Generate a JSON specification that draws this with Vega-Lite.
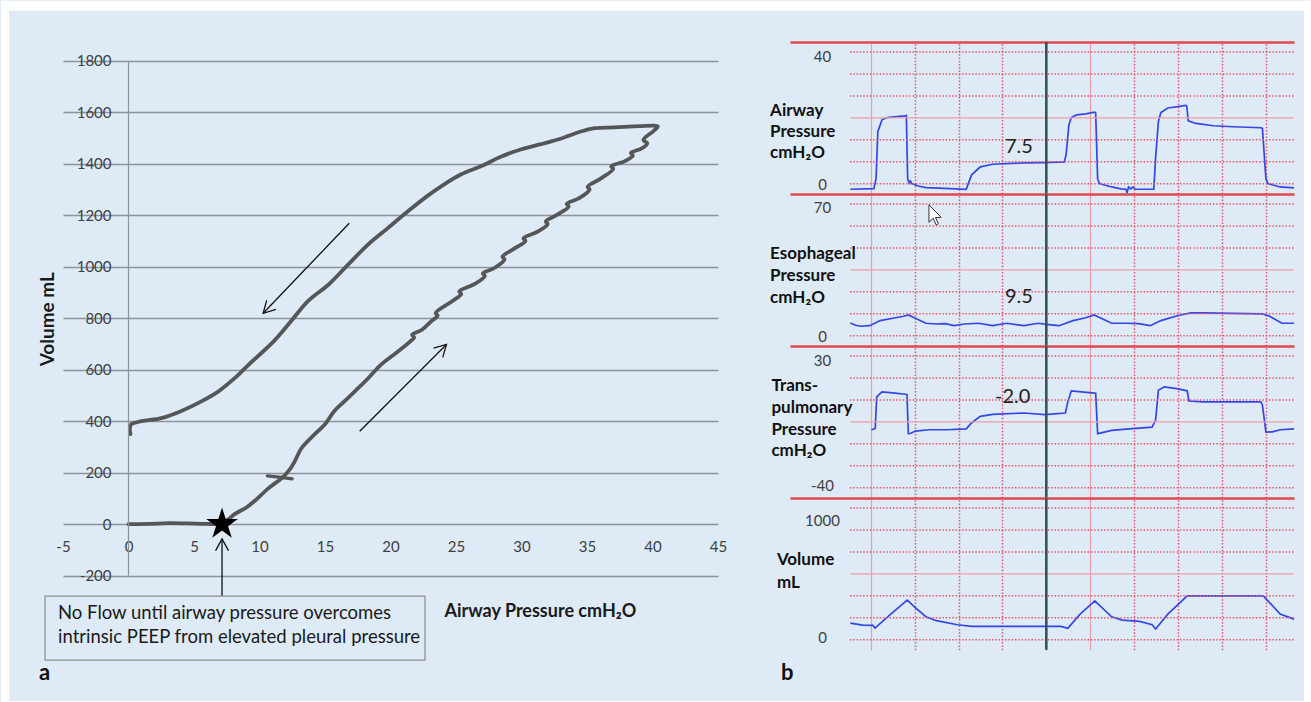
{
  "$schema": "https://vega.github.io/schema/vega-lite/v6.json",
  "background": "#deeaf6",
  "padding": {"left": 0, "top": 0, "right": 0, "bottom": 0},
  "config": {"view": {"stroke": null}, "font": "Lato"},
  "datasets": {
    "loop": [
      {"i":0,"p":0.0,"v":0},{"i":1,"p":1.5,"v":1},{"i":2,"p":3.0,"v":4},{"i":3,"p":4.5,"v":3},{"i":4,"p":6.0,"v":1},
      {"i":5,"p":7.0,"v":3},{"i":6,"p":7.6,"v":18},{"i":7,"p":8.1,"v":39},{"i":8,"p":9.0,"v":65},{"i":9,"p":9.6,"v":89},
      {"i":10,"p":10.7,"v":140},{"i":11,"p":11.7,"v":179},{"i":12,"p":12.3,"v":212},{"i":13,"p":12.7,"v":245},{"i":14,"p":13.2,"v":295},
      {"i":15,"p":14.2,"v":349},{"i":16,"p":15.0,"v":388},{"i":17,"p":15.7,"v":439},{"i":18,"p":16.5,"v":478},{"i":19,"p":17.3,"v":517},
      {"i":20,"p":18.3,"v":567},{"i":21,"p":19.3,"v":621},{"i":22,"p":20.3,"v":660},{"i":23,"p":21.4,"v":705},{"i":24,"p":21.8,"v":726},
      {"i":25,"p":21.65,"v":736},{"i":26,"p":22.4,"v":755},{"i":27,"p":23.1,"v":788},{"i":28,"p":23.6,"v":810},{"i":29,"p":23.45,"v":820},
      {"i":30,"p":24.7,"v":866},{"i":31,"p":25.4,"v":894},{"i":32,"p":25.25,"v":904},{"i":33,"p":26.4,"v":932},{"i":34,"p":27.2,"v":964},
      {"i":35,"p":27.05,"v":974},{"i":36,"p":27.9,"v":994},{"i":37,"p":28.7,"v":1028},{"i":38,"p":28.55,"v":1039},{"i":39,"p":29.5,"v":1072},
      {"i":40,"p":30.3,"v":1100},{"i":41,"p":30.15,"v":1110},{"i":42,"p":31.3,"v":1138},{"i":43,"p":32.0,"v":1166},{"i":44,"p":31.85,"v":1176},
      {"i":45,"p":32.8,"v":1204},{"i":46,"p":33.6,"v":1234},{"i":47,"p":33.45,"v":1244},{"i":48,"p":34.4,"v":1266},{"i":49,"p":35.2,"v":1300},
      {"i":50,"p":35.05,"v":1310},{"i":51,"p":36.1,"v":1344},{"i":52,"p":37.0,"v":1380},{"i":53,"p":36.85,"v":1390},{"i":54,"p":37.9,"v":1410},
      {"i":55,"p":38.5,"v":1432},{"i":56,"p":38.35,"v":1442},{"i":57,"p":39.2,"v":1460},{"i":58,"p":39.6,"v":1480},{"i":59,"p":39.3,"v":1492},
      {"i":60,"p":40.1,"v":1528},{"i":61,"p":40.4,"v":1545},{"i":62,"p":39.0,"v":1546},{"i":63,"p":37.1,"v":1541},{"i":64,"p":35.6,"v":1538},
      {"i":65,"p":34.6,"v":1526},{"i":66,"p":33.1,"v":1499},{"i":67,"p":31.5,"v":1476},{"i":68,"p":30.0,"v":1456},{"i":69,"p":28.5,"v":1429},
      {"i":70,"p":26.9,"v":1390},{"i":71,"p":25.4,"v":1359},{"i":72,"p":24.1,"v":1320},{"i":73,"p":22.9,"v":1278},{"i":74,"p":21.4,"v":1218},
      {"i":75,"p":19.8,"v":1150},{"i":76,"p":18.3,"v":1087},{"i":77,"p":16.8,"v":1010},{"i":78,"p":15.3,"v":932},{"i":79,"p":13.7,"v":866},
      {"i":80,"p":12.4,"v":788},{"i":81,"p":11.1,"v":711},{"i":82,"p":9.2,"v":621},{"i":83,"p":8.1,"v":567},{"i":84,"p":6.9,"v":517},
      {"i":85,"p":5.6,"v":478},{"i":86,"p":4.0,"v":439},{"i":87,"p":2.5,"v":412},{"i":88,"p":1.0,"v":400},{"i":89,"p":0.2,"v":388},
      {"i":90,"p":0.1,"v":370},{"i":91,"p":0.15,"v":350}
    ],
    "spur": [{"i":0,"p":10.6,"v":188},{"i":1,"p":11.5,"v":183},{"i":2,"p":12.5,"v":176}]
  },
  "hconcat": [
    {
      "width": 655,
      "height": 533.7,
      "layer": [
        {
          "data": {"name": "loop"},
          "mark": {"type": "line", "color": "#555658", "strokeWidth": 3.8, "strokeJoin": "round", "strokeCap": "round", "interpolate": "catmull-rom"},
          "encoding": {
            "x": {"field": "p", "type": "quantitative", "scale": {"domain": [-5, 45], "nice": false, "zero": false},
              "axis": {"values": [-5,0,5,10,15,20,25,30,35,40,45], "orient": "bottom", "domain": false, "ticks": false, "tickSize": 0, "grid": false,
                "labelExpr": "'' + datum.value",
                "labelPadding": -36, "labelFlush": false, "labelOverlap": false, "labelFontSize": 15, "labelColor": "#404040", "labelBaseline": "top",
                "title": "Airway Pressure cmH₂O", "titleX": 381, "titleY": 36, "titleAlign": "left", "titleAnchor": "start", "titleBaseline": "middle",
                "titleFontSize": 18, "titleFontWeight": "bold", "titleColor": "#1a1a1a"}},
            "y": {"field": "v", "type": "quantitative", "scale": {"domain": [-200, 1872.7], "nice": false, "zero": false},
              "axis": {"values": [-200,0,200,400,600,800,1000,1200,1400,1600,1800], "orient": "left", "domain": false, "ticks": false, "tickSize": 0, "grid": true,
                "labelExpr": "'' + datum.value",
                "gridColor": "#8d939b", "gridWidth": 1.3, "labelPadding": -48, "labelAlign": "right", "labelBaseline": "middle", "labelFontSize": 15,
                "labelColor": "#404040", "labelFlush": false, "labelOverlap": false,
                "title": "Volume mL", "titleX": -16, "titleY": 276.7, "titleAngle": 270, "titleAlign": "center", "titleBaseline": "middle",
                "titleFontSize": 19, "titleFontWeight": "bold", "titleColor": "#1a1a1a"}},
            "order": {"field": "i", "type": "quantitative"}
          }
        },
        {
          "data": {"values": [{}]},
          "mark": {"type": "rect", "color": "#ffffff", "opacity": 1},
          "encoding": {
            "x": {"datum": -9.733, "scale": {"domain": [-5, 45], "nice": false, "zero": false}},
            "y": {"datum": 2033.2, "scale": {"domain": [-200, 1872.7], "nice": false, "zero": false}},
            "x2": {"datum": -9.122}, "y2": {"datum": -694.6}
          }
        },
        {
          "data": {"values": [{}]},
          "mark": {"type": "rect", "color": "#ffffff", "opacity": 1},
          "encoding": {
            "x": {"datum": -9.733, "scale": {"domain": [-5, 45], "nice": false, "zero": false}},
            "y": {"datum": 2033.2, "scale": {"domain": [-200, 1872.7], "nice": false, "zero": false}},
            "x2": {"datum": 90.34}, "y2": {"datum": 1994.3}
          }
        },
        {
          "data": {"values": [{}]},
          "mark": {"type": "rect", "color": "#ffffff", "opacity": 1},
          "encoding": {
            "x": {"datum": 89.73, "scale": {"domain": [-5, 45], "nice": false, "zero": false}},
            "y": {"datum": 2033.2, "scale": {"domain": [-200, 1872.7], "nice": false, "zero": false}},
            "x2": {"datum": 90.34}, "y2": {"datum": -694.6}
          }
        },
        {
          "data": {"values": [{}]},
          "mark": {"type": "rect", "color": "#ffffff", "opacity": 1},
          "encoding": {
            "x": {"datum": -9.733, "scale": {"domain": [-5, 45], "nice": false, "zero": false}},
            "y": {"datum": -686.9, "scale": {"domain": [-200, 1872.7], "nice": false, "zero": false}},
            "x2": {"datum": 90.34}, "y2": {"datum": -694.6}
          }
        },
        {
          "data": {"values": [{}]},
          "mark": {"type": "rule", "color": "#8d939b", "strokeWidth": 1.2},
          "encoding": {
            "x": {"datum": 0, "scale": {"domain": [-5, 45], "nice": false, "zero": false}},
            "y": {"datum": -200, "scale": {"domain": [-200, 1872.7], "nice": false, "zero": false}},
            "y2": {"datum": 1800}
          }
        },
        {
          "data": {"name": "spur"},
          "mark": {"type": "line", "color": "#555658", "strokeWidth": 3.2, "strokeCap": "round"},
          "encoding": {
            "x": {"field": "p", "type": "quantitative", "scale": {"domain": [-5, 45], "nice": false, "zero": false}},
            "y": {"field": "v", "type": "quantitative", "scale": {"domain": [-200, 1872.7], "nice": false, "zero": false}},
            "order": {"field": "i", "type": "quantitative"}
          }
        },
        {
          "data": {"values": [{}]},
          "mark": {"type": "rule", "color": "#111111", "strokeWidth": 1.3},
          "encoding": {
            "x": {"datum": 16.85, "scale": {"domain": [-5, 45], "nice": false, "zero": false}},
            "y": {"datum": 1169, "scale": {"domain": [-200, 1872.7], "nice": false, "zero": false}},
            "x2": {"datum": 10.28}, "y2": {"datum": 819}
          }
        },
        {
          "data": {"values": [{}]},
          "mark": {"type": "rule", "color": "#111111", "strokeWidth": 1.3},
          "encoding": {
            "x": {"datum": 17.65, "scale": {"domain": [-5, 45], "nice": false, "zero": false}},
            "y": {"datum": 361, "scale": {"domain": [-200, 1872.7], "nice": false, "zero": false}},
            "x2": {"datum": 24.27}, "y2": {"datum": 698}
          }
        },
        {
          "data": {"values": [{}]},
          "mark": {"type": "rule", "color": "#111111", "strokeWidth": 1.3},
          "encoding": {
            "x": {"datum": 7.14, "scale": {"domain": [-5, 45], "nice": false, "zero": false}},
            "y": {"datum": -279, "scale": {"domain": [-200, 1872.7], "nice": false, "zero": false}},
            "y2": {"datum": -57}
          }
        },
        {
          "data": {"values": [{}]},
          "mark": {"type": "point", "shape": "M-0.55,1L0,0L0.55,1", "size": 550, "filled": false, "stroke": "#111111", "strokeWidth": 1.3, "opacity": 1, "angle": 224},
          "encoding": {
            "x": {"datum": 10.28, "scale": {"domain": [-5, 45], "nice": false, "zero": false}},
            "y": {"datum": 819, "scale": {"domain": [-200, 1872.7], "nice": false, "zero": false}}
          }
        },
        {
          "data": {"values": [{}]},
          "mark": {"type": "point", "shape": "M-0.55,1L0,0L0.55,1", "size": 550, "filled": false, "stroke": "#111111", "strokeWidth": 1.3, "opacity": 1, "angle": 45},
          "encoding": {
            "x": {"datum": 24.27, "scale": {"domain": [-5, 45], "nice": false, "zero": false}},
            "y": {"datum": 698, "scale": {"domain": [-200, 1872.7], "nice": false, "zero": false}}
          }
        },
        {
          "data": {"values": [{}]},
          "mark": {"type": "point", "shape": "M-0.55,1L0,0L0.55,1", "size": 550, "filled": false, "stroke": "#111111", "strokeWidth": 1.3, "opacity": 1, "angle": 0},
          "encoding": {
            "x": {"datum": 7.14, "scale": {"domain": [-5, 45], "nice": false, "zero": false}},
            "y": {"datum": -57, "scale": {"domain": [-200, 1872.7], "nice": false, "zero": false}}
          }
        },
        {
          "data": {"values": [{}]},
          "mark": {"type": "point", "shape": "M0,-1L0.2245,-0.309L0.951,-0.309L0.363,0.118L0.588,0.809L0,0.382L-0.588,0.809L-0.363,0.118L-0.951,-0.309L-0.2245,-0.309Z", "size": 1102, "filled": true, "color": "#000000", "opacity": 1},
          "encoding": {
            "x": {"datum": 7.14, "scale": {"domain": [-5, 45], "nice": false, "zero": false}},
            "y": {"datum": 0, "scale": {"domain": [-200, 1872.7], "nice": false, "zero": false}}
          }
        },
        {
          "data": {"values": [{}]},
          "mark": {"type": "rect", "filled": false, "stroke": "#8c8c8c", "strokeWidth": 1.2},
          "encoding": {
            "x": {"datum": -6.37, "scale": {"domain": [-5, 45], "nice": false, "zero": false}},
            "y": {"datum": -279, "scale": {"domain": [-200, 1872.7], "nice": false, "zero": false}},
            "x2": {"datum": 22.63}, "y2": {"datum": -527.5}
          }
        },
        {
          "data": {"values": [{"label": "No Flow until airway pressure overcomes"}]},
          "mark": {"type": "text", "align": "left", "baseline": "middle", "fontSize": 18.5, "color": "#1a1a1a"},
          "encoding": {
            "x": {"datum": -5.38, "scale": {"domain": [-5, 45], "nice": false, "zero": false}},
            "y": {"datum": -345, "scale": {"domain": [-200, 1872.7], "nice": false, "zero": false}},
            "text": {"field": "label"}
          }
        },
        {
          "data": {"values": [{"label": "intrinsic PEEP from elevated pleural pressure"}]},
          "mark": {"type": "text", "align": "left", "baseline": "middle", "fontSize": 18.5, "color": "#1a1a1a"},
          "encoding": {
            "x": {"datum": -5.38, "scale": {"domain": [-5, 45], "nice": false, "zero": false}},
            "y": {"datum": -438, "scale": {"domain": [-200, 1872.7], "nice": false, "zero": false}},
            "text": {"field": "label"}
          }
        },
        {
          "data": {"values": [{"label": "a"}]},
          "mark": {"type": "text", "align": "left", "baseline": "middle", "fontSize": 22, "fontWeight": "bold", "color": "#111111"},
          "encoding": {
            "x": {"datum": -6.83, "scale": {"domain": [-5, 45], "nice": false, "zero": false}},
            "y": {"datum": -578, "scale": {"domain": [-200, 1872.7], "nice": false, "zero": false}},
            "text": {"field": "label"}
          }
        }
      ]
    },
    {
      "vconcat": [
        {
          "width": 504, "height": 151.7,
          "layer": [
            {"data": {"values": [
               {"t":-0.93,"val":-1.7},{"t":0.14,"val":-1.5},{"t":0.24,"val":1.5},{"t":0.32,"val":15.8},{"t":0.51,"val":19.4},{"t":0.75,"val":20.1},
               {"t":1.2,"val":20.4},{"t":1.55,"val":20.6},{"t":1.62,"val":20.7},{"t":1.68,"val":1.5},{"t":1.75,"val":0.2},{"t":1.8,"val":0.8},
               {"t":1.87,"val":0},{"t":2.2,"val":-0.8},{"t":2.51,"val":-1.2},{"t":3.63,"val":-1.5},{"t":4.35,"val":-1.7},{"t":4.59,"val":2.6},
               {"t":4.99,"val":5.1},{"t":5.55,"val":5.9},{"t":6.98,"val":6.3},{"t":7.94,"val":6.4},{"t":8.82,"val":6.6},{"t":8.9,"val":8.7},
               {"t":9.03,"val":17.9},{"t":9.14,"val":20.1},{"t":9.38,"val":20.9},{"t":9.8,"val":21.2},{"t":10.21,"val":21.7},{"t":10.25,"val":21.5},
               {"t":10.34,"val":1.5},{"t":10.42,"val":0},{"t":10.98,"val":-1.0},{"t":11.4,"val":-1.6},{"t":11.62,"val":-1.7},{"t":11.68,"val":-2.7},
               {"t":11.75,"val":-1.0},{"t":11.85,"val":-1.6},{"t":11.95,"val":-1.0},{"t":12.05,"val":-1.7},{"t":12.9,"val":-1.7},{"t":12.98,"val":7.7},
               {"t":13.11,"val":18.9},{"t":13.22,"val":21.6},{"t":13.54,"val":23.0},{"t":14.0,"val":23.4},{"t":14.34,"val":23.8},{"t":14.4,"val":23.6},
               {"t":14.47,"val":19.1},{"t":14.82,"val":18.3},{"t":15.62,"val":17.6},{"t":16.5,"val":17.3},{"t":17.78,"val":17.0},{"t":17.85,"val":16.8},
               {"t":18.01,"val":1.5},{"t":18.1,"val":0},{"t":18.65,"val":-1.0},{"t":19.29,"val":-1.3}]},
             "mark": {"type": "line", "color": "#3347e6", "strokeWidth": 1.7},
             "encoding": {
               "x": {"field": "t", "type": "quantitative", "scale": {"domain": [-3.683, 19.29], "nice": false, "zero": false},
                 "axis": {"orient": "top", "values": [0,1,2,3,4,5,6,7,8,9,10,11,12,13,14,15,16,17,18,19], "domain": true, "domainColor": "#e2474d", "domainWidth": 2.5,
                   "ticks": false, "labels": false, "title": null, "grid": true,
                   "gridColor": {"condition": {"test": "datum.value % 5 === 0", "value": "#ef9ca6"}, "value": "#e4576a"},
                   "gridDash": {"condition": {"test": "datum.value % 5 === 0", "value": []}, "value": [1.5, 1.8]},
                   "gridWidth": {"condition": {"test": "datum.value % 5 === 0", "value": 1.2}, "value": 1.5}}},
               "y": {"field": "val", "type": "quantitative", "scale": {"domain": [-3.05, 43.05], "nice": false, "zero": false},
                 "axis": {"values": [0, 40], "orient": "left", "domain": false, "ticks": false, "tickSize": 0, "grid": false, "labelPadding": -32, "labelAlign": "center",
                   "labelExpr": "'' + datum.value",
                   "labelOffset": {"condition": {"test": "datum.value > 0", "value": 4}, "value": 1},
                   "labelBaseline": "middle", "labelFontSize": 15, "labelColor": "#404040", "labelFlush": false, "labelOverlap": false, "title": null}}
             }},
            {"data": {"values": [{"val":0},{"val":6.667},{"val":13.333},{"val":26.667},{"val":33.333},{"val":40}]},
             "mark": {"type": "rule", "color": "#e4576a", "strokeWidth": 1.5, "strokeDash": [1.5, 1.8]},
             "encoding": {"y": {"field": "val", "type": "quantitative", "scale": {"domain": [-3.05, 43.05], "nice": false, "zero": false}},
               "x": {"datum": -0.95, "scale": {"domain": [-3.683, 19.29], "nice": false, "zero": false}}, "x2": {"datum": 19.29}}},
            {"data": {"values": [{"val":20}]},
             "mark": {"type": "rule", "color": "#ef9ca6", "strokeWidth": 1.3},
             "encoding": {"y": {"field": "val", "type": "quantitative", "scale": {"domain": [-3.05, 43.05], "nice": false, "zero": false}},
               "x": {"datum": -0.95, "scale": {"domain": [-3.683, 19.29], "nice": false, "zero": false}}, "x2": {"datum": 19.29}}},
            {"data": {"values": [{}]},
             "mark": {"type": "rule", "color": "#2a5459", "strokeWidth": 2.5},
             "encoding": {"x": {"datum": 8, "scale": {"domain": [-3.683, 19.29], "nice": false, "zero": false}}}},
            {"data": {"values": [{"label": "Airway\nPressure\ncmH₂O"}]},
             "mark": {"type": "text", "align": "left", "baseline": "middle", "lineBreak": "\n", "lineHeight": 21, "fontSize": 17, "fontWeight": "bold", "color": "#111111"},
             "encoding": {"x": {"datum": -4.59, "scale": {"domain": [-3.683, 19.29], "nice": false, "zero": false}},
               "y": {"datum": 22.2, "scale": {"domain": [-3.05, 43.05], "nice": false, "zero": false}}, "text": {"field": "label"}}},
            {"data": {"values": [{"label": "7.5"}]},
             "mark": {"type": "text", "align": "center", "baseline": "middle", "fontSize": 20, "color": "#222222"},
             "encoding": {"x": {"datum": 6.75, "scale": {"domain": [-3.683, 19.29], "nice": false, "zero": false}},
               "y": {"datum": 11.0, "scale": {"domain": [-3.05, 43.05], "nice": false, "zero": false}}, "text": {"field": "label"}}}
          ]
        },
        {
          "width": 504, "height": 151.7,
          "layer": [
            {"data": {"values": [
               {"t":-0.93,"val":6.7},{"t":-0.7,"val":5.5},{"t":-0.45,"val":5.0},{"t":-0.05,"val":5.3},{"t":0.43,"val":8.0},{"t":1.07,"val":9.4},
               {"t":1.5,"val":10.3},{"t":1.71,"val":11.0},{"t":2.03,"val":9.2},{"t":2.51,"val":6.6},{"t":2.99,"val":6.2},{"t":3.4,"val":6.4},
               {"t":3.79,"val":5.3},{"t":4.27,"val":6.2},{"t":4.91,"val":6.6},{"t":5.55,"val":5.3},{"t":6.19,"val":6.6},{"t":6.98,"val":5.3},
               {"t":7.63,"val":6.6},{"t":8.1,"val":5.9},{"t":8.58,"val":5.3},{"t":9.22,"val":8.0},{"t":9.8,"val":9.5},{"t":10.18,"val":11.0},
               {"t":10.5,"val":9.2},{"t":10.98,"val":6.6},{"t":11.62,"val":6.6},{"t":12.2,"val":6.4},{"t":12.74,"val":5.3},{"t":13.22,"val":8.0},
               {"t":14.02,"val":10.7},{"t":14.58,"val":12.1},{"t":15.14,"val":12.1},{"t":17.86,"val":11.6},{"t":18.18,"val":10.3},{"t":18.74,"val":6.6},
               {"t":19.29,"val":6.6}]},
             "mark": {"type": "line", "color": "#3347e6", "strokeWidth": 1.7},
             "encoding": {
               "x": {"field": "t", "type": "quantitative", "scale": {"domain": [-3.683, 19.29], "nice": false, "zero": false},
                 "axis": {"orient": "top", "values": [0,1,2,3,4,5,6,7,8,9,10,11,12,13,14,15,16,17,18,19], "domain": true, "domainColor": "#e2474d", "domainWidth": 2.5,
                   "ticks": false, "labels": false, "title": null, "grid": true,
                   "gridColor": {"condition": {"test": "datum.value % 5 === 0", "value": "#ef9ca6"}, "value": "#e4576a"},
                   "gridDash": {"condition": {"test": "datum.value % 5 === 0", "value": []}, "value": [1.5, 1.8]},
                   "gridWidth": {"condition": {"test": "datum.value % 5 === 0", "value": 1.2}, "value": 1.5}}},
               "y": {"field": "val", "type": "quantitative", "scale": {"domain": [-5.35, 75.35], "nice": false, "zero": false},
                 "axis": {"values": [0, 70], "orient": "left", "domain": false, "ticks": false, "tickSize": 0, "grid": false, "labelPadding": -32, "labelAlign": "center",
                   "labelExpr": "'' + datum.value",
                   "labelOffset": {"condition": {"test": "datum.value > 0", "value": 3}, "value": 1},
                   "labelBaseline": "middle", "labelFontSize": 15, "labelColor": "#404040", "labelFlush": false, "labelOverlap": false, "title": null}}
             }},
            {"data": {"values": [{"val":0},{"val":11.667},{"val":23.333},{"val":46.667},{"val":58.333},{"val":70}]},
             "mark": {"type": "rule", "color": "#e4576a", "strokeWidth": 1.5, "strokeDash": [1.5, 1.8]},
             "encoding": {"y": {"field": "val", "type": "quantitative", "scale": {"domain": [-5.35, 75.35], "nice": false, "zero": false}},
               "x": {"datum": -0.95, "scale": {"domain": [-3.683, 19.29], "nice": false, "zero": false}}, "x2": {"datum": 19.29}}},
            {"data": {"values": [{"val":35}]},
             "mark": {"type": "rule", "color": "#ef9ca6", "strokeWidth": 1.3},
             "encoding": {"y": {"field": "val", "type": "quantitative", "scale": {"domain": [-5.35, 75.35], "nice": false, "zero": false}},
               "x": {"datum": -0.95, "scale": {"domain": [-3.683, 19.29], "nice": false, "zero": false}}, "x2": {"datum": 19.29}}},
            {"data": {"values": [{}]},
             "mark": {"type": "rule", "color": "#2a5459", "strokeWidth": 2.5},
             "encoding": {"x": {"datum": 8, "scale": {"domain": [-3.683, 19.29], "nice": false, "zero": false}}}},
            {"data": {"values": [{}]},
             "mark": {"type": "point", "shape": "M0,0L0,1.75L0.42,1.35L0.72,2.0L0.95,1.9L0.66,1.28L1.22,1.25Z", "size": 400, "filled": true, "fill": "#ffffff", "stroke": "#333333", "strokeWidth": 1, "opacity": 1},
             "encoding": {"x": {"datum": 2.65, "scale": {"domain": [-3.683, 19.29], "nice": false, "zero": false}},
               "y": {"datum": 69.6, "scale": {"domain": [-5.35, 75.35], "nice": false, "zero": false}}}},
            {"data": {"values": [{"label": "Esophageal\nPressure\ncmH₂O"}]},
             "mark": {"type": "text", "align": "left", "baseline": "middle", "lineBreak": "\n", "lineHeight": 21.8, "fontSize": 17, "fontWeight": "bold", "color": "#111111"},
             "encoding": {"x": {"datum": -4.59, "scale": {"domain": [-3.683, 19.29], "nice": false, "zero": false}},
               "y": {"datum": 43.4, "scale": {"domain": [-5.35, 75.35], "nice": false, "zero": false}}, "text": {"field": "label"}}},
            {"data": {"values": [{"label": "9.5"}]},
             "mark": {"type": "text", "align": "center", "baseline": "middle", "fontSize": 20, "color": "#222222"},
             "encoding": {"x": {"datum": 6.75, "scale": {"domain": [-3.683, 19.29], "nice": false, "zero": false}},
               "y": {"datum": 20.5, "scale": {"domain": [-5.35, 75.35], "nice": false, "zero": false}}, "text": {"field": "label"}}}
          ]
        },
        {
          "width": 504, "height": 151.7,
          "layer": [
            {"data": {"values": [
               {"t":0.03,"val":-9.2},{"t":0.2,"val":-8.5},{"t":0.27,"val":8.3},{"t":0.51,"val":10.9},{"t":0.99,"val":10.4},{"t":1.58,"val":9.7},
               {"t":1.65,"val":9.5},{"t":1.71,"val":-11.3},{"t":1.8,"val":-11.2},{"t":2.03,"val":-9.9},{"t":2.67,"val":-9.2},{"t":3.47,"val":-9.2},
               {"t":4.35,"val":-8.7},{"t":4.59,"val":-5.6},{"t":4.99,"val":-2.1},{"t":5.55,"val":-1.0},{"t":6.98,"val":-0.3},{"t":7.94,"val":-1.2},
               {"t":8.87,"val":-0.3},{"t":8.98,"val":5.6},{"t":9.14,"val":11.5},{"t":10.1,"val":10.4},{"t":10.25,"val":10.2},{"t":10.34,"val":-11.3},
               {"t":10.45,"val":-11.0},{"t":10.98,"val":-9.5},{"t":11.78,"val":-8.7},{"t":12.82,"val":-7.8},{"t":12.98,"val":-4.2},{"t":13.11,"val":11.8},
               {"t":13.38,"val":13.6},{"t":13.94,"val":12.7},{"t":14.42,"val":11.5},{"t":14.5,"val":6.1},{"t":15.14,"val":5.6},{"t":17.78,"val":5.6},
               {"t":17.85,"val":4.0},{"t":18.01,"val":-10.5},{"t":18.3,"val":-10.3},{"t":18.66,"val":-9.2},{"t":19.29,"val":-8.7}]},
             "mark": {"type": "line", "color": "#3347e6", "strokeWidth": 1.7},
             "encoding": {
               "x": {"field": "t", "type": "quantitative", "scale": {"domain": [-3.683, 19.29], "nice": false, "zero": false},
                 "axis": {"orient": "top", "values": [0,1,2,3,4,5,6,7,8,9,10,11,12,13,14,15,16,17,18,19], "domain": true, "domainColor": "#e2474d", "domainWidth": 2.5,
                   "ticks": false, "labels": false, "title": null, "grid": true,
                   "gridColor": {"condition": {"test": "datum.value % 5 === 0", "value": "#ef9ca6"}, "value": "#e4576a"},
                   "gridDash": {"condition": {"test": "datum.value % 5 === 0", "value": []}, "value": [1.5, 1.8]},
                   "gridWidth": {"condition": {"test": "datum.value % 5 === 0", "value": 1.2}, "value": 1.5}}},
               "y": {"field": "val", "type": "quantitative", "scale": {"domain": [-45.35, 35.35], "nice": false, "zero": false},
                 "axis": {"values": [-40, 30], "orient": "left", "domain": false, "ticks": false, "tickSize": 0, "grid": false, "labelPadding": -32, "labelAlign": "center",
                   "labelExpr": "'' + datum.value",
                   "labelOffset": {"condition": {"test": "datum.value > 0", "value": 4}, "value": -2},
                   "labelBaseline": "middle", "labelFontSize": 15, "labelColor": "#404040", "labelFlush": false, "labelOverlap": false, "title": null}}
             }},
            {"data": {"values": [{"val":-40},{"val":-28.333},{"val":-16.667},{"val":6.667},{"val":18.333},{"val":30}]},
             "mark": {"type": "rule", "color": "#e4576a", "strokeWidth": 1.5, "strokeDash": [1.5, 1.8]},
             "encoding": {"y": {"field": "val", "type": "quantitative", "scale": {"domain": [-45.35, 35.35], "nice": false, "zero": false}},
               "x": {"datum": -0.95, "scale": {"domain": [-3.683, 19.29], "nice": false, "zero": false}}, "x2": {"datum": 19.29}}},
            {"data": {"values": [{"val":-5}]},
             "mark": {"type": "rule", "color": "#ef9ca6", "strokeWidth": 1.3},
             "encoding": {"y": {"field": "val", "type": "quantitative", "scale": {"domain": [-45.35, 35.35], "nice": false, "zero": false}},
               "x": {"datum": -0.95, "scale": {"domain": [-3.683, 19.29], "nice": false, "zero": false}}, "x2": {"datum": 19.29}}},
            {"data": {"values": [{}]},
             "mark": {"type": "rule", "color": "#2a5459", "strokeWidth": 2.5},
             "encoding": {"x": {"datum": 8, "scale": {"domain": [-3.683, 19.29], "nice": false, "zero": false}}}},
            {"data": {"values": [{"label": "Trans-\npulmonary\nPressure\ncmH₂O"}]},
             "mark": {"type": "text", "align": "left", "baseline": "middle", "lineBreak": "\n", "lineHeight": 21.7, "fontSize": 17, "fontWeight": "bold", "color": "#111111"},
             "encoding": {"x": {"datum": -4.53, "scale": {"domain": [-3.683, 19.29], "nice": false, "zero": false}},
               "y": {"datum": 13.9, "scale": {"domain": [-45.35, 35.35], "nice": false, "zero": false}}, "text": {"field": "label"}}},
            {"data": {"values": [{"label": "-2.0"}]},
             "mark": {"type": "text", "align": "center", "baseline": "middle", "fontSize": 20, "color": "#222222"},
             "encoding": {"x": {"datum": 6.47, "scale": {"domain": [-3.683, 19.29], "nice": false, "zero": false}},
               "y": {"datum": 8.3, "scale": {"domain": [-45.35, 35.35], "nice": false, "zero": false}}, "text": {"field": "label"}}}
          ]
        },
        {
          "width": 504, "height": 151.7,
          "layer": [
            {"data": {"values": [
               {"t":-0.93,"val":126},{"t":-0.37,"val":111},{"t":0.1,"val":108},{"t":0.19,"val":88},{"t":0.91,"val":194},{"t":1.66,"val":300},
               {"t":2.03,"val":244},{"t":2.51,"val":174},{"t":2.99,"val":144},{"t":3.95,"val":113},{"t":4.59,"val":101},{"t":8.66,"val":101},
               {"t":8.98,"val":86},{"t":9.54,"val":194},{"t":10.21,"val":295},{"t":10.98,"val":174},{"t":11.46,"val":149},{"t":12.26,"val":139},
               {"t":12.82,"val":113},{"t":12.98,"val":81},{"t":13.54,"val":194},{"t":14.42,"val":333},{"t":17.89,"val":333},{"t":18.66,"val":194},
               {"t":19.29,"val":156}]},
             "mark": {"type": "line", "color": "#3347e6", "strokeWidth": 1.7},
             "encoding": {
               "x": {"field": "t", "type": "quantitative", "scale": {"domain": [-3.683, 19.29], "nice": false, "zero": false},
                 "axis": {"orient": "top", "values": [0,1,2,3,4,5,6,7,8,9,10,11,12,13,14,15,16,17,18,19], "domain": true, "domainColor": "#e2474d", "domainWidth": 2.5,
                   "ticks": false, "labels": false, "title": null, "grid": true,
                   "gridColor": {"condition": {"test": "datum.value % 5 === 0", "value": "#ef9ca6"}, "value": "#e4576a"},
                   "gridDash": {"condition": {"test": "datum.value % 5 === 0", "value": []}, "value": [1.5, 1.8]},
                   "gridWidth": {"condition": {"test": "datum.value % 5 === 0", "value": 1.2}, "value": 1.5}}},
               "y": {"field": "val", "type": "quantitative", "scale": {"domain": [-76.4, 1076.4], "nice": false, "zero": false},
                 "axis": {"values": [0, 1000], "orient": "left", "domain": false, "ticks": false, "tickSize": 0, "grid": false, "labelPadding": -32, "labelAlign": "center",
                   "labelExpr": "'' + datum.value",
                   "labelOffset": {"condition": {"test": "datum.value > 0", "value": 12}, "value": -2},
                   "labelBaseline": "middle", "labelFontSize": 15, "labelColor": "#404040", "labelFlush": false, "labelOverlap": false, "title": null}}
             }},
            {"data": {"values": [{"val":0},{"val":166.67},{"val":333.33},{"val":666.67},{"val":833.33},{"val":1000}]},
             "mark": {"type": "rule", "color": "#e4576a", "strokeWidth": 1.5, "strokeDash": [1.5, 1.8]},
             "encoding": {"y": {"field": "val", "type": "quantitative", "scale": {"domain": [-76.4, 1076.4], "nice": false, "zero": false}},
               "x": {"datum": -0.95, "scale": {"domain": [-3.683, 19.29], "nice": false, "zero": false}}, "x2": {"datum": 19.29}}},
            {"data": {"values": [{"val":500}]},
             "mark": {"type": "rule", "color": "#ef9ca6", "strokeWidth": 1.3},
             "encoding": {"y": {"field": "val", "type": "quantitative", "scale": {"domain": [-76.4, 1076.4], "nice": false, "zero": false}},
               "x": {"datum": -0.95, "scale": {"domain": [-3.683, 19.29], "nice": false, "zero": false}}, "x2": {"datum": 19.29}}},
            {"data": {"values": [{}]},
             "mark": {"type": "rule", "color": "#2a5459", "strokeWidth": 2.5},
             "encoding": {"x": {"datum": 8, "scale": {"domain": [-3.683, 19.29], "nice": false, "zero": false}}}},
            {"data": {"values": [{"label": "Volume\nmL"}]},
             "mark": {"type": "text", "align": "left", "baseline": "middle", "lineBreak": "\n", "lineHeight": 23.7, "fontSize": 17, "fontWeight": "bold", "color": "#111111"},
             "encoding": {"x": {"datum": -4.28, "scale": {"domain": [-3.683, 19.29], "nice": false, "zero": false}},
               "y": {"datum": 608, "scale": {"domain": [-76.4, 1076.4], "nice": false, "zero": false}}, "text": {"field": "label"}}},
            {"data": {"values": [{"label": "b"}]},
             "mark": {"type": "text", "align": "left", "baseline": "middle", "fontSize": 22, "fontWeight": "bold", "color": "#111111"},
             "encoding": {"x": {"datum": -4.09, "scale": {"domain": [-3.683, 19.29], "nice": false, "zero": false}},
               "y": {"datum": -255, "scale": {"domain": [-76.4, 1076.4], "nice": false, "zero": false}}, "text": {"field": "label"}}}
          ]
        }
      ],
      "spacing": 0,
      "bounds": "flush",
      "resolve": {"scale": {"x": "independent", "y": "independent"}}
    }
  ],
  "spacing": 72,
  "bounds": "flush",
  "resolve": {"scale": {"x": "independent", "y": "independent"}}
}
